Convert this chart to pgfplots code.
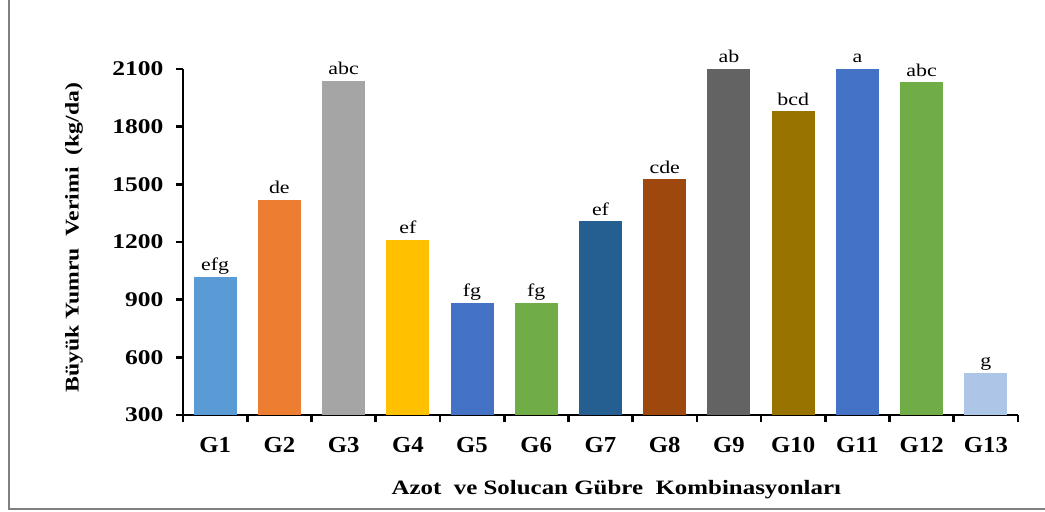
\documentclass[border=0pt]{standalone}
\usepackage{pgfplots}
\pgfplotsset{compat=1.18}
\usepackage{fontspec}
\setmainfont{Liberation Serif}[FakeStretch=1.22]
\newfontfamily\xtickfont{Liberation Serif}[FakeStretch=1.08]
\definecolor{c1}{HTML}{5B9BD5}
\definecolor{c2}{HTML}{ED7D31}
\definecolor{c3}{HTML}{A5A5A5}
\definecolor{c4}{HTML}{FFC000}
\definecolor{c5}{HTML}{4472C4}
\definecolor{c6}{HTML}{70AD47}
\definecolor{c7}{HTML}{255E91}
\definecolor{c8}{HTML}{9E480E}
\definecolor{c9}{HTML}{636363}
\definecolor{c10}{HTML}{997300}
\definecolor{c11}{HTML}{4472C4}
\definecolor{c12}{HTML}{70AD47}
\definecolor{c13}{HTML}{ADC5E7}
\definecolor{framegray}{HTML}{808080}
\pgfplotsset{
  mybar/.style={ybar, bar width=0.67, fill=#1, draw=none,
    nodes near coords, point meta=explicit symbolic,
    every node near coord/.append style={font=\fontsize{18}{20}\selectfont, text=black, anchor=base, yshift=6bp}},
}
\begin{document}
\begin{tikzpicture}[x=1bp,y=1bp]
\useasboundingbox (0,0) rectangle (1045,512);
\draw[line width=2bp, color=framegray] (9,512) -- (9,3) -- (1045,3);
\begin{axis}[
  at={(183bp,97bp)}, anchor=south west,
  width=835bp, height=346bp, scale only axis,
  xmin=0.5, xmax=13.5, ymin=300, ymax=2100,
  axis x line*=bottom, axis y line*=left,
  axis line style={line width=2.7bp, black, -},
  tick align=outside,
  major tick length=7bp,
  tick style={line width=2.7bp, black},
  xtick={0.5,1.5,...,13.5},
  xticklabels={G1,G2,G3,G4,G5,G6,G7,G8,G9,G10,G11,G12,G13},
  x tick label as interval,
  ytick={300,600,...,2100},
  /pgf/number format/assume math mode=true,
  /pgf/number format/1000 sep={},
  yticklabel style={font=\fontsize{21}{24}\selectfont\bfseries, xshift=-9bp},
  xticklabel style={font=\xtickfont\fontsize{23}{26}\selectfont\bfseries, yshift=-12bp},
  clip=false,
  xlabel={Azot\ \ ve Solucan\ Gübre\ \ Kombinasyonları},
  ylabel={Büyük Yumru\ \ Verimi\ \ (kg/da)},
  xlabel style={font=\fontsize{20.5}{24}\selectfont\bfseries, at={(axis description cs:0.519,-0.231)}, anchor=base},
  ylabel style={font=\fontsize{19.5}{24}\selectfont\bfseries, at={(axis description cs:-0.1305,0.512)}, anchor=center},
]
\addplot[mybar=c1]  coordinates {(1,1018) [efg]};
\addplot[mybar=c2]  coordinates {(2,1420) [de]};
\addplot[mybar=c3]  coordinates {(3,2039) [abc]};
\addplot[mybar=c4]  coordinates {(4,1211) [ef]};
\addplot[mybar=c5]  coordinates {(5,883) [fg]};
\addplot[mybar=c6]  coordinates {(6,883) [fg]};
\addplot[mybar=c7]  coordinates {(7,1309) [ef]};
\addplot[mybar=c8]  coordinates {(8,1526) [cde]};
\addplot[mybar=c9]  coordinates {(9,2100) [ab]};
\addplot[mybar=c10] coordinates {(10,1881) [bcd]};
\addplot[mybar=c11] coordinates {(11,2100) [a]};
\addplot[mybar=c12] coordinates {(12,2032) [abc]};
\addplot[mybar=c13] coordinates {(13,521) [g]};
\end{axis}
\end{tikzpicture}
\end{document}
